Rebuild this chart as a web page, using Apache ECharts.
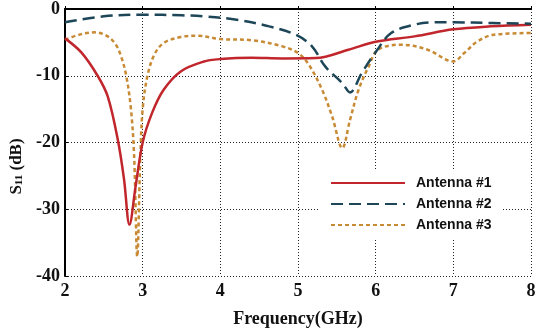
<!DOCTYPE html>
<html>
<head>
<meta charset="utf-8">
<script src="https://cdn.jsdelivr.net/npm/echarts@6/dist/echarts.min.js"></script>
<style>
  html, body { margin: 0; padding: 0; background: #fff; }
  #chart { width: 544px; height: 333px; }
</style>
</head>
<body>
<div id="chart"></div>
<script>
// S11, [GHz, dB]
const antenna1 = [
  [2, -4.4], [2.21, -6.5], [2.42, -10], [2.55, -13.1], [2.68, -19.6], [2.76, -25.5],
  [2.83, -32.3], [2.91, -26.5], [3.0, -20], [3.12, -15.6], [3.27, -12.1], [3.49, -9.35],
  [3.78, -7.9], [4.0, -7.5], [4.4, -7.3], [4.8, -7.4], [5.23, -7.35], [5.65, -6.1],
  [6.0, -4.9], [6.5, -4.1], [7.0, -3.05], [7.48, -2.6], [8, -2.35]
];
const antenna2 = [
  [2, -2.0], [2.5, -1.1], [3, -0.85], [3.5, -0.95], [3.78, -1.1], [4.21, -1.6],
  [4.63, -2.6], [4.97, -3.85], [5.18, -5.6], [5.35, -8.6], [5.57, -11.1], [5.67, -12.5],
  [5.82, -9.6], [6.01, -6.3], [6.2, -3.6], [6.5, -2.35], [6.75, -2.0], [7, -2.0],
  [7.5, -2.1], [8, -2.2]
];
const antenna3 = [
  [2, -4.6], [2.2, -3.8], [2.38, -3.5], [2.52, -3.9], [2.64, -5.1], [2.72, -7],
  [2.79, -10.1], [2.85, -15.1], [2.89, -22], [2.93, -37.1], [2.97, -22], [3.0, -15],
  [3.06, -10.1], [3.15, -6.85], [3.27, -5.1], [3.49, -4.2], [3.7, -4.0], [4.0, -4.5],
  [4.42, -4.7], [4.8, -5.6], [5.0, -6.6], [5.14, -8.35], [5.31, -12.1], [5.44, -16.1],
  [5.57, -20.85], [5.67, -16.6], [5.78, -12.1], [5.91, -8.6], [6.03, -6.1], [6.33, -5.35],
  [6.67, -6.1], [7.0, -7.85], [7.14, -6.6], [7.31, -4.85], [7.52, -3.85], [8, -3.6]
];
const seriesNames = ['Antenna #1', 'Antenna #2', 'Antenna #3'];

const chart = echarts.init(document.getElementById('chart'));

const serif = '"Liberation Serif", "DejaVu Serif", serif';
const gridLine = { show: true, lineStyle: { color: '#222', type: [1, 2], width: 1 } };

const option = {
  animation: false,
  backgroundColor: '#fff',
  grid: { left: 60, right: 13, top: 9, bottom: 57 },
  legend: {
    data: seriesNames,
    orient: 'vertical',
    left: 320,
    top: 170,
    backgroundColor: '#fff',
    padding: [6, 10, 6, 10],
    itemWidth: 74,
    itemHeight: 10,
    itemGap: 7,
    itemStyle: { opacity: 0 },
    textStyle: {
      fontFamily: '"Liberation Sans", Arial, sans-serif',
      fontWeight: 'bold',
      fontSize: 14,
      color: '#111',
      padding: [0, 0, 0, 6]
    }
  },
  xAxis: {
    type: 'value',
    min: 2,
    max: 8,
    interval: 1,
    name: 'Frequency(GHz)',
    nameLocation: 'middle',
    nameGap: 34,
    nameTextStyle: { fontFamily: serif, fontWeight: 'bold', fontSize: 18, color: '#111' },
    axisLine: { lineStyle: { color: '#000', width: 2 } },
    axisTick: { show: true, inside: true, length: 3, lineStyle: { color: '#000' } },
    axisLabel: { fontFamily: serif, fontWeight: 'bold', fontSize: 18, color: '#111', margin: 6 },
    splitLine: gridLine
  },
  yAxis: {
    type: 'value',
    min: -40,
    max: 0,
    interval: 10,
    name: '{a|S}{b|11}{a| (dB)}',
    nameLocation: 'middle',
    nameGap: 40,
    nameRotate: 90,
    nameTextStyle: {
      color: '#111',
      padding: [0, 48, 0, 0],
      rich: {
        a: { fontFamily: serif, fontWeight: 'bold', fontSize: 17, color: '#111' },
        b: { fontFamily: serif, fontWeight: 'bold', fontSize: 11, color: '#111', verticalAlign: 'bottom' }
      }
    },
    axisLine: { show: true, lineStyle: { color: '#000', width: 2 } },
    axisTick: { show: true, inside: true, length: 3, lineStyle: { color: '#000' } },
    axisLabel: { fontFamily: serif, fontWeight: 'bold', fontSize: 18, color: '#111', margin: 5 },
    splitLine: gridLine
  },
  series: [
    {
      name: seriesNames[0],
      type: 'line',
      data: antenna1,
      symbol: 'none',
      smooth: 0.35,
      z: 3,
      itemStyle: { color: '#c0262c' },
      lineStyle: { color: '#c0262c', width: 2.5 }
    },
    {
      name: seriesNames[1],
      type: 'line',
      data: antenna2,
      symbol: 'none',
      smooth: 0.35,
      z: 4,
      itemStyle: { color: '#1d4658' },
      lineStyle: { color: '#1d4658', width: 2.5, type: [12, 6] }
    },
    {
      name: seriesNames[2],
      type: 'line',
      data: antenna3,
      symbol: 'none',
      smooth: 0.35,
      z: 2,
      itemStyle: { color: '#c88a34' },
      lineStyle: { color: '#c88a34', width: 2.5, type: [4, 3] }
    }
  ]
};

chart.setOption(option);
</script>
</body>
</html>
